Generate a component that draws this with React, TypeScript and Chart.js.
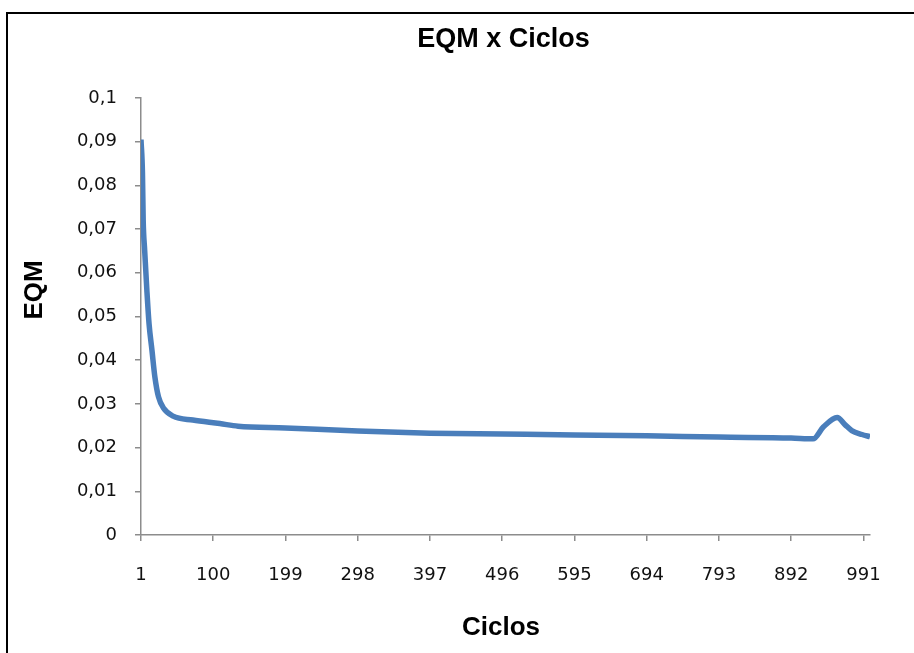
import React, { useEffect, useRef } from 'react';
import { Chart, registerables } from 'chart.js';

Chart.register(...registerables);

const cycles = [1, 3, 4, 6, 9, 12, 16, 20, 25, 32, 45, 72, 109, 134, 199, 298, 397, 496, 595, 694, 793, 892, 922, 936, 955, 966, 975, 989, 1000];
const eqm = [0.0905, 0.0828, 0.0721, 0.0652, 0.0561, 0.0484, 0.0423, 0.0362, 0.0316, 0.029, 0.0272, 0.0263, 0.0255, 0.0249, 0.0245, 0.0238, 0.0233, 0.0231, 0.0229, 0.0227, 0.0224, 0.0222, 0.022, 0.0247, 0.0269, 0.0252, 0.0239, 0.023, 0.0225];
const xTickValues = [1, 100, 199, 298, 397, 496, 595, 694, 793, 892, 991];
const yTickValues = [0, 0.01, 0.02, 0.03, 0.04, 0.05, 0.06, 0.07, 0.08, 0.09, 0.1];

const chartTitle = 'EQM x Ciclos';
const xTitle = 'Ciclos';
const yTitle = 'EQM';

const AXIS = '#8c8c8c';
const TICK_FONT = { family: '"DejaVu Sans", sans-serif', size: 18 };

const titlesPlugin = {
  id: 'excelTitles',
  afterDraw(chart: any) {
    const ctx = chart.ctx;
    ctx.save();
    ctx.fillStyle = '#000';
    ctx.textAlign = 'center';
    ctx.textBaseline = 'alphabetic';
    ctx.font = 'bold 27px "Liberation Sans", Arial, sans-serif';
    ctx.fillText(chartTitle, 503.5, 47);
    ctx.font = 'bold 26px "Liberation Sans", Arial, sans-serif';
    ctx.fillText(xTitle, 501, 635);
    ctx.translate(42, 290);
    ctx.rotate(-Math.PI / 2);
    ctx.font = 'bold 26px "Liberation Sans", Arial, sans-serif';
    ctx.fillText(yTitle, 0, 0);
    ctx.restore();
  },
};

export default function App() {
  const ref = useRef<HTMLCanvasElement>(null);
  useEffect(() => {
    document.body.style.margin = '0';
    const chart = new Chart(ref.current as HTMLCanvasElement, {
      type: 'line',
      data: {
        datasets: [
          {
            label: yTitle,
            data: cycles.map((c, i) => ({ x: c, y: eqm[i] })),
            borderColor: '#4a7ebb',
            borderWidth: 5.5,
            pointRadius: 0,
            fill: false,
            cubicInterpolationMode: 'monotone',
            borderJoinStyle: 'round',
            borderCapStyle: 'butt',
          },
        ],
      },
      options: {
        responsive: false,
        animation: false,
        layout: { padding: { left: 0, right: 44, top: 98, bottom: 0 } },
        plugins: {
          legend: { display: false },
          title: { display: false },
          tooltip: { enabled: false },
        },
        scales: {
          x: {
            type: 'linear',
            min: 1,
            max: 1000,
            afterBuildTicks: (s: any) => {
              s.ticks = xTickValues.map((v) => ({ value: v }));
            },
            afterFit: (s: any) => {
              s.height = 118;
            },
            ticks: {
              autoSkip: false,
              maxRotation: 0,
              minRotation: 0,
              padding: 24,
              color: '#111',
              font: TICK_FONT,
              callback: (v: any) => String(v),
            },
            grid: {
              display: true,
              drawOnChartArea: false,
              drawTicks: true,
              tickLength: 6,
              color: AXIS,
              lineWidth: 1.5,
            },
            border: { display: true, color: AXIS, width: 1.5 },
          },
          y: {
            type: 'linear',
            min: 0,
            max: 0.1,
            afterBuildTicks: (s: any) => {
              s.ticks = yTickValues.map((v) => ({ value: v }));
            },
            afterFit: (s: any) => {
              s.width = 141;
            },
            ticks: {
              padding: 18,
              color: '#111',
              font: TICK_FONT,
              callback: (v: any) => String(Number(Number(v).toFixed(2))).replace('.', ','),
            },
            grid: {
              display: true,
              drawOnChartArea: false,
              drawTicks: true,
              tickLength: 6,
              color: AXIS,
              lineWidth: 1.5,
            },
            border: { display: true, color: AXIS, width: 1.5 },
          },
        },
      },
      plugins: [titlesPlugin],
    } as any);
    return () => chart.destroy();
  }, []);

  return (
    <div style={{ position: 'relative', width: 914, height: 653, overflow: 'hidden', background: '#fff' }}>
      <canvas ref={ref} width={914} height={653} style={{ position: 'absolute', left: 0, top: 0 }} />
      <div
        style={{
          position: 'absolute',
          left: 6,
          top: 12,
          width: 2000,
          height: 2000,
          borderLeft: '2px solid #000',
          borderTop: '2px solid #000',
          pointerEvents: 'none',
        }}
      />
    </div>
  );
}
